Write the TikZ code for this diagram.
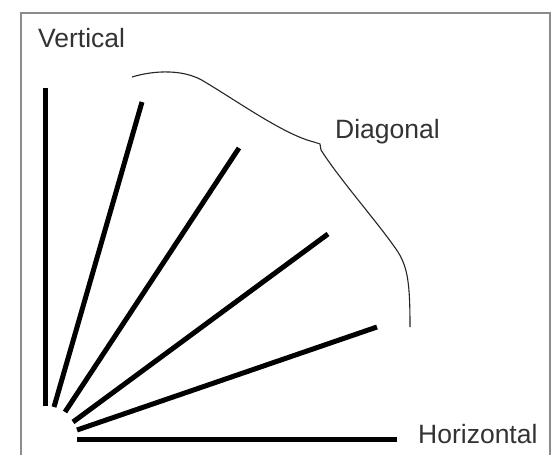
\documentclass[tikz,border=0pt]{standalone}
\usepackage{fontspec}
\setmainfont{Liberation Sans}
\begin{document}
\begin{tikzpicture}[x=1pt,y=-1pt,
  spoke/.style={line width=5pt,black},
  curveline/.style={line width=1.1pt,black!85},
  framestyle/.style={line width=2pt,black!45},
  lbl/.style={anchor=base west,inner sep=0pt,font=\fontsize{26.5}{28}\selectfont,text=black!80}]
\useasboundingbox (0,0) rectangle (557,455);
\fill[white] (0,0) rectangle (557,455);
% frame (bottom edge lies outside the picture)
\draw[framestyle] (20.5,462) -- (20.5,13) -- (549.5,13) -- (549.5,462);
% spokes
\coordinate (v0) at (45,406);   \coordinate (v1) at (45,88);
\coordinate (a0) at (54,407);   \coordinate (a1) at (142,102);
\coordinate (b0) at (65,412);   \coordinate (b1) at (239,148);
\coordinate (c0) at (73,422);   \coordinate (c1) at (328,234);
\coordinate (d0) at (77,430);   \coordinate (d1) at (377,327);
\coordinate (h0) at (77,439);   \coordinate (h1) at (397,439);
\draw[spoke] (v0) -- (v1);
\draw[spoke] (a0) -- (a1);
\draw[spoke] (b0) -- (b1);
\draw[spoke] (c0) -- (c1);
\draw[spoke] (d0) -- (d1);
\draw[spoke] (h0) -- (h1);
% bracket curve
\coordinate (cs) at (132,77);
\coordinate (ce) at (410,327);
\draw[curveline] (cs) .. controls (155,70) and (185,69) .. (205,82)
  .. controls (240,103) and (285,135) .. (314,142) -- (320,144) -- (321,150)
  .. controls (340,180) and (380,225) .. (398,252)
  .. controls (408,268) and (410,285) .. (ce);
% labels
\node[lbl] (vert) at (38,47) {Vertical};
\node[lbl] (diag) at (335,138) {Diagonal};
\node[lbl] (hor) at (418,443) {Horizontal};
\end{tikzpicture}
\end{document}
